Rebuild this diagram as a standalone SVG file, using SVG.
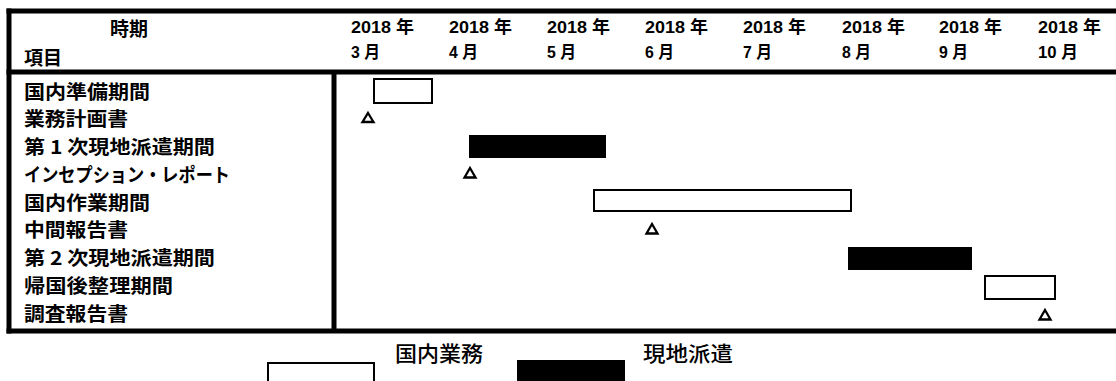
<svg xmlns="http://www.w3.org/2000/svg" width="1116" height="381" viewBox="0 0 1116 381">
<style>
text{font-family:"Liberation Sans","Noto Sans CJK JP",sans-serif;font-weight:bold;fill:#000;dominant-baseline:central}
.lbl{font-size:19px;font-family:"Noto Sans CJK JP",sans-serif}
.hd{font-size:17px}
.leg{font-size:21px;font-family:"Noto Sans CJK JP",sans-serif;font-weight:500}
.frame{stroke:#000;stroke-width:5;fill:none}
.dom{fill:#fff;stroke:#000;stroke-width:2}
.fld{fill:#000;stroke:#000;stroke-width:1}
.tri{fill:#fff;stroke:#000;stroke-width:2.3;stroke-linejoin:miter}
</style>
<rect width="1116" height="381" fill="#fff"/>
<g id="table">
<line class="frame" x1="6.5" y1="11" x2="1116" y2="11"/>
<line class="frame" x1="6.5" y1="72" x2="1116" y2="72"/>
<line class="frame" x1="6.5" y1="331" x2="1116" y2="331"/>
<line class="frame" x1="9" y1="8.5" x2="9" y2="333.5"/>
<line class="frame" x1="334" y1="72" x2="334" y2="331"/>
</g>
<g id="header">
<text class="lbl" x="110" y="27" textLength="38" lengthAdjust="spacingAndGlyphs">時期</text>
<text class="lbl" x="24" y="56" textLength="38" lengthAdjust="spacingAndGlyphs">項目</text>
<g class="hd">
<text x="351" y="27" textLength="63" lengthAdjust="spacingAndGlyphs">2018 年</text>
<text x="449" y="27" textLength="63" lengthAdjust="spacingAndGlyphs">2018 年</text>
<text x="547" y="27" textLength="63" lengthAdjust="spacingAndGlyphs">2018 年</text>
<text x="645" y="27" textLength="63" lengthAdjust="spacingAndGlyphs">2018 年</text>
<text x="743" y="27" textLength="63" lengthAdjust="spacingAndGlyphs">2018 年</text>
<text x="842" y="27" textLength="63" lengthAdjust="spacingAndGlyphs">2018 年</text>
<text x="939" y="27" textLength="63" lengthAdjust="spacingAndGlyphs">2018 年</text>
<text x="1038" y="27" textLength="63" lengthAdjust="spacingAndGlyphs">2018 年</text>
<text x="351" y="52" textLength="29" lengthAdjust="spacingAndGlyphs">3 月</text>
<text x="449" y="52" textLength="29" lengthAdjust="spacingAndGlyphs">4 月</text>
<text x="547" y="52" textLength="29" lengthAdjust="spacingAndGlyphs">5 月</text>
<text x="645" y="52" textLength="29" lengthAdjust="spacingAndGlyphs">6 月</text>
<text x="743" y="52" textLength="29" lengthAdjust="spacingAndGlyphs">7 月</text>
<text x="842" y="52" textLength="29" lengthAdjust="spacingAndGlyphs">8 月</text>
<text x="939" y="52" textLength="29" lengthAdjust="spacingAndGlyphs">9 月</text>
<text x="1038" y="52" textLength="40" lengthAdjust="spacingAndGlyphs">10 月</text>
</g>
</g>
<g id="row1">
<text class="lbl" x="24" y="90" textLength="126" lengthAdjust="spacingAndGlyphs">国内準備期間</text>
<rect class="dom" x="374" y="79" width="58" height="24"/>
</g>
<g id="row2">
<text class="lbl" x="24" y="117.75" textLength="104" lengthAdjust="spacingAndGlyphs">業務計画書</text>
<polygon class="tri" points="368,113 373.5,122 362.5,122"/>
</g>
<g id="row3">
<text class="lbl" x="24" y="145.5" textLength="191" lengthAdjust="spacingAndGlyphs">第 1 次現地派遣期間</text>
<rect class="fld" x="469.5" y="135.5" width="136" height="22"/>
</g>
<g id="row4">
<text class="lbl" x="24" y="173.25" textLength="206" lengthAdjust="spacingAndGlyphs">インセプション・レポート</text>
<polygon class="tri" points="470,168 475.5,177.5 464.5,177.5"/>
</g>
<g id="row5">
<text class="lbl" x="24" y="201" textLength="126" lengthAdjust="spacingAndGlyphs">国内作業期間</text>
<rect class="dom" x="594" y="190" width="257" height="21"/>
</g>
<g id="row6">
<text class="lbl" x="24" y="228.75" textLength="104" lengthAdjust="spacingAndGlyphs">中間報告書</text>
<polygon class="tri" points="652,224 657.5,233.5 646.5,233.5"/>
</g>
<g id="row7">
<text class="lbl" x="24" y="256.5" textLength="191" lengthAdjust="spacingAndGlyphs">第 2 次現地派遣期間</text>
<rect class="fld" x="848.5" y="247.5" width="123" height="22"/>
</g>
<g id="row8">
<text class="lbl" x="24" y="284.25" textLength="149" lengthAdjust="spacingAndGlyphs">帰国後整理期間</text>
<rect class="dom" x="985" y="276" width="70" height="23"/>
</g>
<g id="row9">
<text class="lbl" x="24" y="312" textLength="104" lengthAdjust="spacingAndGlyphs">調査報告書</text>
<polygon class="tri" points="1045,310 1050.5,319.5 1039.5,319.5"/>
</g>
<g id="legend">
<rect class="dom" x="268" y="363" width="106" height="30"/>
<text class="leg" x="395" y="352" textLength="88" lengthAdjust="spacingAndGlyphs">国内業務</text>
<rect x="517" y="360" width="108" height="30" fill="#000"/>
<text class="leg" x="643" y="352" textLength="90" lengthAdjust="spacingAndGlyphs">現地派遣</text>
</g>
<g id="connectors"/>
</svg>
